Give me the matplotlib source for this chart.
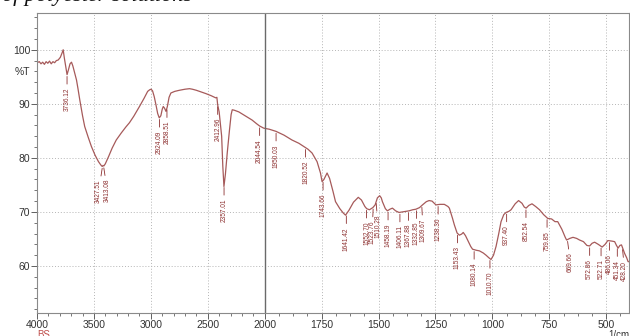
import numpy as np
import matplotlib
matplotlib.use("Agg")
import matplotlib.pyplot as plt
import matplotlib.transforms as mtransforms

# --- Data ---------------------------------------------------------------------
wavenumber = [
    4000, 3980, 3965, 3950, 3935, 3920, 3905, 3890, 3875, 3860, 3845, 3830, 3814, 3795, 3780,
    3770, 3760, 3745, 3736, 3725, 3710, 3697, 3685, 3670, 3653, 3640, 3624, 3600, 3581, 3550,
    3522, 3490, 3460, 3440, 3427, 3420, 3413, 3400, 3370, 3340, 3304, 3260, 3220, 3188, 3150,
    3100, 3060, 3028, 3010, 2998, 2985, 2970, 2955, 2940, 2926, 2912, 2900, 2891, 2880, 2867,
    2855, 2840, 2824, 2790, 2750, 2700, 2660, 2635, 2600, 2560, 2518, 2470, 2430, 2420, 2413,
    2400, 2390, 2378, 2368, 2358, 2345, 2329, 2310, 2295, 2285, 2265, 2227, 2180, 2140, 2111,
    2070, 2045, 2009, 1980, 1950, 1915, 1880, 1850, 1828, 1810, 1792, 1770, 1755, 1748, 1740,
    1726, 1715, 1700, 1689, 1670, 1655, 1645, 1630, 1610, 1589, 1575, 1560, 1552, 1540, 1525,
    1515, 1505, 1495, 1488, 1483, 1470, 1461, 1450, 1439, 1425, 1410, 1395, 1380, 1366, 1350,
    1336, 1320, 1307, 1290, 1278, 1265, 1248, 1230, 1211, 1195, 1189, 1175, 1167, 1155, 1145,
    1135, 1128, 1118, 1109, 1095, 1087, 1070, 1057, 1040, 1028, 1015, 1006, 995, 984, 972,
    962, 950, 940, 928, 918, 900, 885, 870, 860, 852, 840, 826, 810, 793, 775,
    757, 740, 725, 713, 695, 680, 674, 660, 646, 630, 617, 600, 585, 573, 562,
    551, 535, 518, 505, 493, 475, 463, 455, 448, 440, 433, 425, 419, 410, 404, 400,
]
transmittance = [
    97.6, 97.8, 97.4, 97.7, 97.3, 97.8, 97.5, 97.9, 97.4, 97.8, 97.6, 98.0, 98.1, 98.6, 99.4,
    100.0, 98.5, 96.5, 95.4, 96.2, 97.4, 97.7, 97.0, 95.8, 94.4, 92.8, 90.7, 87.8, 85.8, 83.8,
    82.1, 80.5, 79.3, 78.7, 78.4, 78.6, 78.5, 78.9, 80.3, 81.8, 83.3, 84.6, 85.7, 86.5, 87.7,
    89.5, 91.0, 92.3, 92.6, 92.7, 92.4, 91.3, 89.8, 88.2, 87.4, 87.8, 89.0, 89.5, 89.2, 88.6,
    89.5, 91.2, 92.0, 92.3, 92.5, 92.7, 92.8, 92.7, 92.5, 92.2, 91.9, 91.5, 91.1, 91.2, 89.8,
    88.5, 86.5, 84.0, 78.5, 74.7, 77.0, 80.9, 85.0, 88.0, 88.9, 88.8, 88.5, 87.9, 87.4, 87.0,
    86.3, 85.9, 85.5, 85.3, 84.9, 84.2, 83.3, 82.7, 82.1, 81.6, 80.9, 79.3, 77.2, 75.6, 76.0,
    77.2, 76.2, 73.8, 71.9, 70.6, 69.8, 69.4, 70.3, 71.8, 72.7, 72.2, 71.0, 70.6, 70.4, 70.8,
    71.3, 72.6, 73.0, 72.6, 71.9, 70.6, 70.2, 70.5, 70.7, 70.2, 69.9, 70.0, 70.1, 70.2, 70.4,
    70.5, 70.8, 71.3, 71.9, 72.1, 72.0, 71.3, 71.4, 71.4, 71.0, 70.7, 68.8, 67.6, 66.1, 65.7,
    65.9, 66.2, 65.6, 64.8, 63.6, 63.1, 62.9, 62.8, 62.4, 62.0, 61.5, 61.2, 62.0, 63.6, 66.0,
    68.2, 69.5, 69.9, 70.1, 70.4, 71.5, 72.1, 71.6, 70.9, 70.7, 71.2, 71.5, 71.0, 70.4, 69.5,
    68.8, 68.7, 68.2, 68.2, 66.8, 65.3, 64.8, 65.1, 65.3, 65.1, 64.8, 64.5, 63.8, 63.7, 64.2,
    64.4, 64.0, 63.5, 64.0, 64.7, 64.6, 64.5, 63.8, 63.3, 63.8, 63.9, 63.0, 62.3, 61.5, 60.8, 60.8,
]

peaks = [3736.12, 3427.51, 3413.08, 2924.09, 2858.51, 2412.96, 2357.01, 2044.54, 1950.03,
         1820.52, 1743.66, 1641.42, 1552.70, 1523.76, 1510.28, 1458.19, 1406.11, 1367.88,
         1332.85, 1309.67, 1238.36, 1153.43, 1080.14, 1010.70, 937.40, 852.54, 759.85,
         669.66, 572.86, 522.71, 486.06, 451.34, 428.20]
# sideways nudges (points) for labels that would overlap
label_shift = {3427.51: -2.5, 3413.08: 2.5, 1523.76: -0.7, 1510.28: 1.4,
               1367.88: -0.5, 1332.85: -0.3, 1309.67: 0.8, 669.66: 2.0, 428.20: 1.5}

x_major = [4000, 3500, 3000, 2500, 2000, 1750, 1500, 1250, 1000, 750, 500]


# --- Axis scale: 4000-2000 compressed by half, like the instrument print -------
def fwd(x):
    x = np.asarray(x, dtype=float)
    return np.where(x >= 2000, (x - 2000) / 2.0, x - 2000)


def inv(t):
    t = np.asarray(t, dtype=float)
    return np.where(t >= 0, t * 2.0 + 2000, t + 2000)


plt.rcParams['font.family'] = ['Liberation Sans', 'DejaVu Sans']

fig = plt.figure(figsize=(6.3, 3.36), dpi=100)
ax = fig.add_axes([37 / 630, 23 / 336, 592 / 630, 300 / 336])

line_col = '#a65a5a'
lab_col = '#8c2f2f'

ax.set_xscale('function', functions=(fwd, inv))
ax.plot(wavenumber, transmittance, color=line_col, lw=0.9)

ax.set_xlim(4000, 400)
ax.set_ylim(51.3, 106.8)

minor_hi = [v for v in range(3900, 2000, -100) if v % 500]
minor_lo = [v for v in np.arange(1937.5, 400, -62.5) if v % 250]
ax.set_xticks(x_major)
ax.set_xticks(minor_hi + minor_lo, minor=True)
ax.set_yticks([60, 70, 80, 90, 100])
ax.set_yticks(np.arange(52, 107, 2), minor=True)

ax.grid(which='major', ls=(0, (1, 2)), color='#b5b5b5', lw=0.7)
ax.axvline(2000, color='#6a6a6a', lw=1.0)

ax.tick_params(which='major', direction='out', length=4, width=0.7, color='#606060',
               labelsize=7.5, labelcolor='#333333', pad=0.8)
ax.tick_params(which='minor', direction='out', length=2.5, width=0.6, color='#606060')
for s in ax.spines.values():
    s.set_color('#8a8a8a')
    s.set_linewidth(0.8)

# peak labels
wn_asc = wavenumber[::-1]
t_asc = transmittance[::-1]
for p in peaks:
    yc = np.interp(p, wn_asc, t_asc)
    dx = label_shift.get(p, 0.0)
    ax.annotate(f'{p:.2f}', xy=(p, yc - 0.35), xytext=(dx, -8.0), textcoords='offset points',
                rotation=90, ha='center', va='top', fontsize=4.7, color=lab_col,
                arrowprops=dict(arrowstyle='-', color=lab_col, lw=0.6, shrinkA=0.5, shrinkB=0))

blend = mtransforms.blended_transform_factory(ax.transAxes, ax.transData)
ax.text(-0.012, 95.8, '%T', transform=blend, ha='right', va='center', fontsize=7.5, color='#333333')
fig.text(37 / 630, 1 - 329.5 / 336, 'BS', ha='left', va='top', fontsize=7, color='#c0504d')
fig.text(629 / 630, 1 - 329.5 / 336, '1/cm', ha='right', va='top', fontsize=7, color='#333333')
fig.text(0.003, 1 - 1.5 / 336, 'of polyester solutions', ha='left', va='baseline', fontsize=16,
         family='Liberation Serif', style='italic', color='#111111')

fig.savefig('out.png', dpi=100)
